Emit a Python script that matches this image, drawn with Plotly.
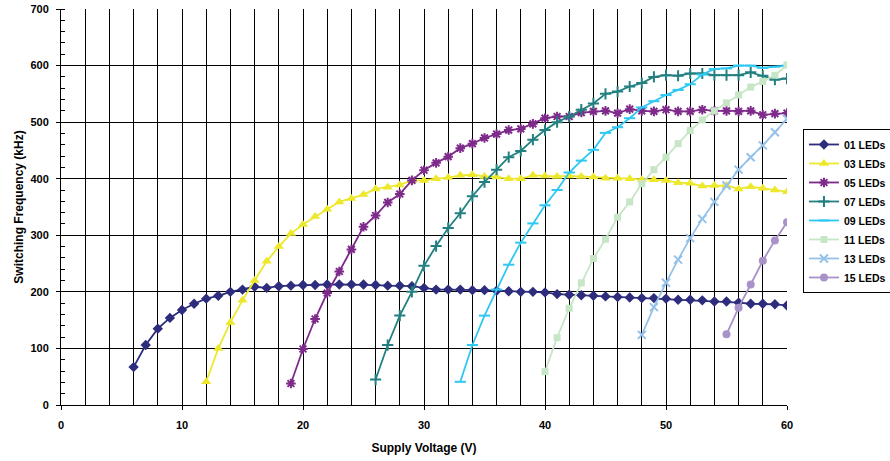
import plotly.graph_objects as go

# ---- data ----
v01 = list(range(6, 61))
f01 = [67, 106, 135, 154, 168, 179, 188, 193, 200, 204, 209, 207, 210, 211, 212, 212, 213, 213, 213, 213,
       212, 211, 211, 210, 207, 204, 204, 204, 203, 203, 202, 201, 200, 200, 199, 196, 195, 194, 193, 192,
       191, 190, 189, 189, 188, 186, 186, 185, 183, 183, 181, 179, 179, 178, 176]

v03 = list(range(12, 61))
f03 = [41, 100, 146, 185, 220, 254, 280, 303, 319, 333, 346, 359, 365, 372, 382, 385, 389, 397, 397, 400,
       402, 406, 407, 404, 403, 400, 400, 406, 405, 404, 405, 404, 403, 401, 401, 400, 398, 398, 397, 393,
       392, 387, 388, 388, 382, 386, 383, 380, 377]

v05 = list(range(19, 61))
f05 = [38, 99, 152, 198, 236, 275, 315, 335, 358, 373, 397, 415, 428, 439, 454, 462, 472, 479, 486, 488,
       497, 507, 510, 510, 517, 519, 520, 516, 523, 520, 519, 522, 519, 519, 522, 520, 520, 519, 520, 513,
       515, 516]

v07 = list(range(26, 61))
f07 = [45, 106, 158, 200, 246, 281, 313, 339, 369, 394, 416, 438, 449, 469, 486, 500, 510, 522, 533, 550,
       554, 563, 569, 580, 583, 582, 586, 586, 583, 583, 583, 588, 582, 575, 577]

v09 = list(range(33, 61))
f09 = [41, 106, 158, 204, 248, 287, 321, 353, 380, 411, 432, 451, 481, 491, 507, 526, 537, 548, 557, 567,
       584, 594, 595, 600, 600, 596, 598, 600]

v11 = list(range(40, 61))
f11 = [59, 119, 171, 216, 259, 293, 332, 359, 391, 416, 438, 462, 485, 504, 520, 534, 548, 562, 572, 583, 601]

v13 = list(range(48, 61))
f13 = [124, 173, 216, 257, 295, 329, 359, 388, 416, 438, 459, 482, 506]

v15 = list(range(55, 61))
f15 = [125, 172, 213, 255, 291, 323]

series_names = ["01 LEDs", "03 LEDs", "05 LEDs", "07 LEDs", "09 LEDs", "11 LEDs", "13 LEDs", "15 LEDs"]
x_title = "Supply Voltage (V)"
y_title = "Switching Frequency (kHz)"

# ---- styles ----
styles = [
    dict(color="#2E2C7C", symbol="diamond", size=8, open=False),
    dict(color="#EEE82C", symbol="triangle-up", size=9, open=False),
    dict(color="#7E2A8A", symbol="asterisk-open", size=8, open=True),
    dict(color="#228080", symbol="cross-thin-open", size=8, open=True),
    dict(color="#2EC8F2", symbol="line-ew-open", size=8, open=True),
    dict(color="#C6E6C6", symbol="square", size=7, open=False),
    dict(color="#96C2EA", symbol="x-thin-open", size=8, open=True),
    dict(color="#A892C8", symbol="circle", size=8, open=False),
]

data = [(v01, f01), (v03, f03), (v05, f05), (v07, f07), (v09, f09), (v11, f11), (v13, f13), (v15, f15)]

fig = go.Figure()
for (xs, ys), name, st in zip(data, series_names, styles):
    marker = dict(symbol=st["symbol"], size=st["size"], color=st["color"])
    if st["open"]:
        marker["line"] = dict(width=2, color=st["color"])
    else:
        marker["line"] = dict(width=0)
    fig.add_trace(go.Scatter(x=xs, y=ys, name=name, mode="lines+markers",
                             line=dict(color=st["color"], width=1.8), marker=marker))

font_family = "Arial, Liberation Sans, sans-serif"

fig.update_layout(
    width=890, height=461, autosize=False,
    margin=dict(l=61, r=103, t=9, b=56, autoexpand=False),
    paper_bgcolor="white", plot_bgcolor="white",
    font=dict(family=font_family, size=10, color="black", weight="bold"),
    showlegend=True,
    legend=dict(x=1.022, y=0.697, xanchor="left", yanchor="top",
                bordercolor="black", borderwidth=1, bgcolor="white",
                font=dict(family=font_family, size=10.5, color="black", weight="bold"),
                itemwidth=30, tracegroupgap=0),
)

fig.update_xaxes(
    range=[0, 60], dtick=10, tick0=0, automargin=False,
    showgrid=True, gridcolor="#000000", gridwidth=1,
    showline=True, linecolor="black", linewidth=1, mirror=False,
    ticks="outside", ticklen=4, tickcolor="black", ticklabelstandoff=6,
    minor=dict(dtick=2, showgrid=True, gridcolor="#000000", gridwidth=1, ticks=""),
    zeroline=False,
    tickfont=dict(family=font_family, size=11, color="black", weight="bold"),
    title=dict(text=x_title, standoff=13,
               font=dict(family=font_family, size=12, color="black", weight="bold")),
)

fig.update_yaxes(
    range=[0, 700], dtick=100, tick0=0, automargin=False,
    showgrid=True, gridcolor="#000000", gridwidth=1,
    showline=True, linecolor="black", linewidth=1,
    ticks="outside", ticklen=4, tickcolor="black", ticklabelstandoff=5,
    minor=dict(dtick=20, showgrid=False, ticks="inside", ticklen=4, tickcolor="black"),
    zeroline=False,
    tickfont=dict(family=font_family, size=11, color="black", weight="bold"),
    title=dict(text=y_title, standoff=4,
               font=dict(family=font_family, size=12, color="black", weight="bold")),
)

fig.write_html("out.html", config={"displayModeBar": False},
               post_script="document.body.style.margin='0';")
